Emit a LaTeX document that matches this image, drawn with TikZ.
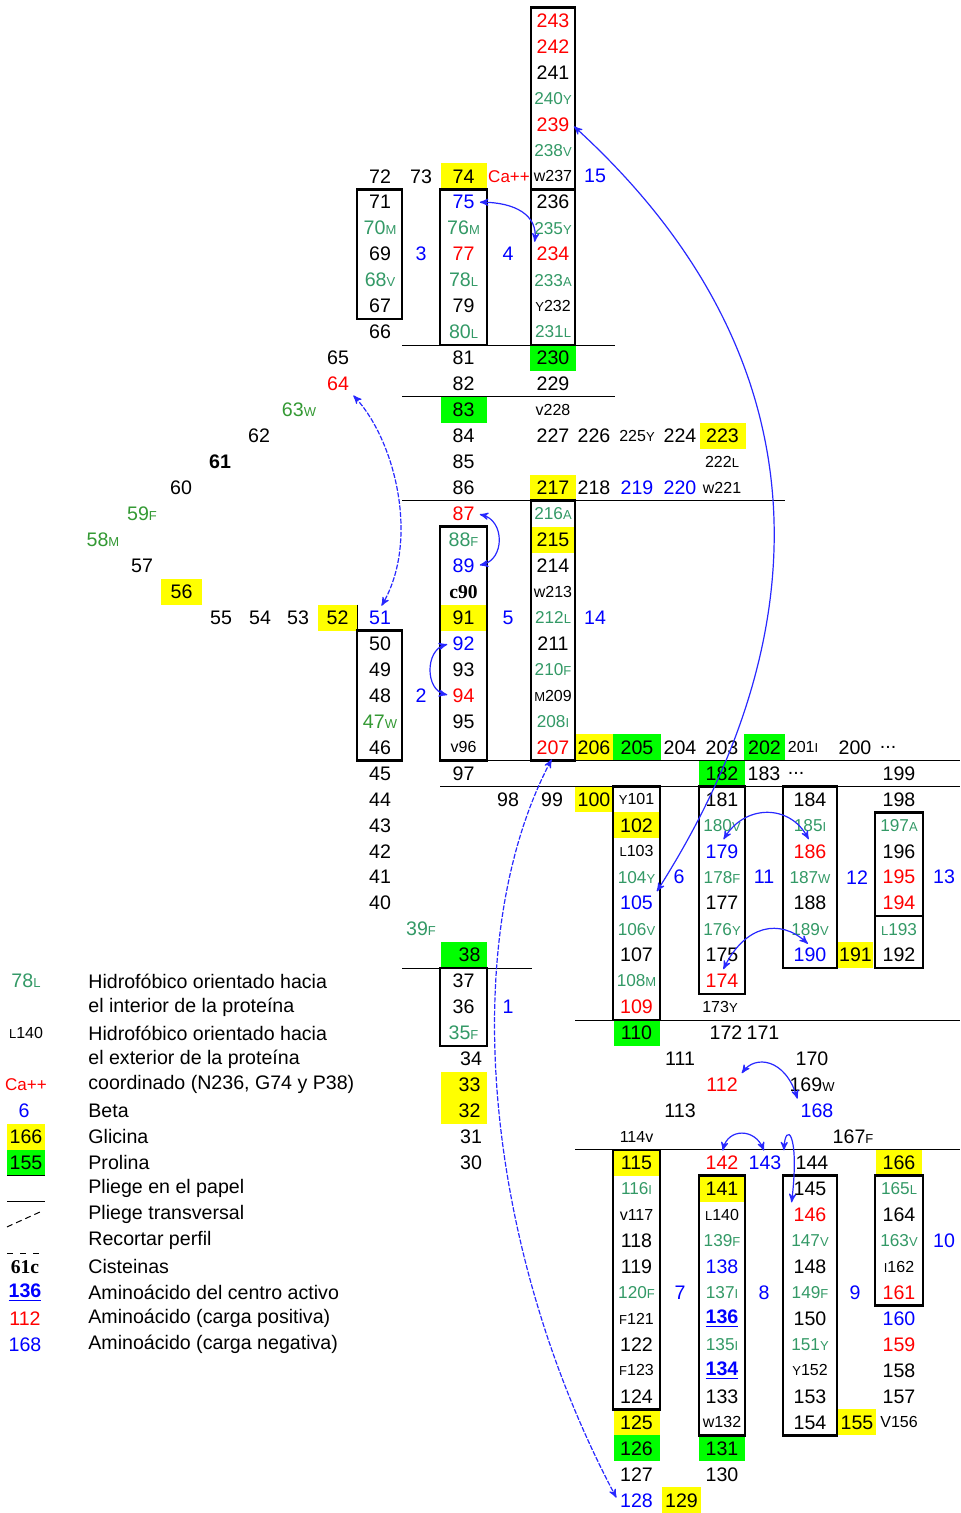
\documentclass[tikz,border=0pt]{standalone}
\usepackage{fontspec}
\setmainfont{Liberation Sans}
\newfontfamily\serifbf{Liberation Serif}
\usepackage{tikz}
\usetikzlibrary{arrows}

\definecolor{hyd}{RGB}{51,153,102}
\definecolor{hydw}{RGB}{51,153,51}
\definecolor{pos}{RGB}{255,0,0}
\definecolor{neg}{RGB}{0,0,255}
\definecolor{gly}{RGB}{255,255,0}
\definecolor{pro}{RGB}{0,255,0}
\definecolor{lnk}{RGB}{40,40,255}

\newcommand\suf[1]{{\fontsize{6.5}{7}\selectfont #1}}

\begin{document}
\begin{tikzpicture}[x=0.5pt,y=-12.98pt,>=stealth',
    every node/.style={font=\fontsize{9.8}{11}\selectfont,inner sep=1pt},
    inres/.style={text=hyd,font=\fontsize{8.6}{10}\selectfont},
    inresb/.style={text=hyd},
    inresw/.style={text=hydw},
    posres/.style={text=pos},
    negres/.style={text=neg},
    betanum/.style={text=neg},
    calc/.style={text=pos,font=\fontsize{8.5}{10}\selectfont},
    outres/.style={font=\fontsize{8}{9}\selectfont},
    actres/.style={text=neg,font=\fontsize{9.8}{11}\selectfont\bfseries},
    hl/.style={minimum width=23pt,minimum height=12.98pt,inner sep=0pt},
    glycell/.style={hl,fill=gly},
    procell/.style={hl,fill=pro},
    rgt/.style={text width=17pt,align=right,inner xsep=3pt},
    strand/.style={draw,line width=1.3pt},
    foldline/.style={line width=0.5pt},
    link/.style={<->,draw=lnk,line width=0.6pt,shorten <=1.5pt,shorten >=1.5pt},
    brokenlink/.style={link,dash pattern=on 2.5pt off 0.8pt}]
\useasboundingbox (0,-0.79) rectangle (960,57.49);

% top of strand 15
\node[posres] (n243) at (553,0) {243};
\node[posres] (n242) at (553,1) {242};
\node (n241) at (553,2) {241};
\node[inres] (n240) at (553,3) {240\suf{Y}};
\node[posres] (n239) at (553,4) {239};
\node[inres] (n238) at (553,5) {238\suf{V}};
\node (n72) at (380,6) {72};
\node (n73) at (421,6) {73};
\node[glycell] (n74) at (463.5,6) {74};
\node[calc] (nCa) at (509,6) {Ca++};
\node[outres] (n237) at (553,6) {w237};
\node[betanum] (b15) at (595,6) {15};
% strands 3, 4 and 15
\node (n71) at (380,7) {71};
\node[negres] (n75) at (463.5,7) {75};
\node (n236) at (553,7) {236};
\node[inresb] (n70) at (380,8) {70\suf{M}};
\node[inresb] (n76) at (463.5,8) {76\suf{M}};
\node[inres] (n235) at (553,8) {235\suf{Y}};
\node (n69) at (380,9) {69};
\node[betanum] (b3) at (421,9) {3};
\node[posres] (n77) at (463.5,9) {77};
\node[betanum] (b4) at (508,9) {4};
\node[posres] (n234) at (553,9) {234};
\node[inresb] (n68) at (380,10) {68\suf{V}};
\node[inresb] (n78) at (463.5,10) {78\suf{L}};
\node[inres] (n233) at (553,10) {233\suf{A}};
\node (n67) at (380,11) {67};
\node (n79) at (463.5,11) {79};
\node[outres] (n232) at (553,11) {\suf{Y}232};
\node (n66) at (380,12) {66};
\node[inresb] (n80) at (463.5,12) {80\suf{L}};
\node[inres] (n231) at (553,12) {231\suf{L}};
% loops 81-86 and 218-230
\node (n65) at (338,13) {65};
\node (n81) at (463.5,13) {81};
\node[procell] (n230) at (553,13) {230};
\node[posres] (n64) at (338,14) {64};
\node (n82) at (463.5,14) {82};
\node (n229) at (553,14) {229};
\node[inresw] (n63) at (299,15) {63\suf{W}};
\node[procell] (n83) at (463.5,15) {83};
\node[outres] (n228) at (553,15) {v228};
\node (n62) at (259,16) {62};
\node (n84) at (463.5,16) {84};
\node (n227) at (553,16) {227};
\node (n226) at (594,16) {226};
\node[outres] (n225) at (637,16) {225\suf{Y}};
\node (n224) at (680,16) {224};
\node[glycell] (n223) at (722.5,16) {223};
\node (n61) at (220,17) {\textbf{61}};
\node (n85) at (463.5,17) {85};
\node[outres] (n222) at (722,17) {222\suf{L}};
\node (n60) at (181,18) {60};
\node (n86) at (463.5,18) {86};
\node[glycell] (n217) at (553,18) {217};
\node (n218) at (594,18) {218};
\node[negres] (n219) at (637,18) {219};
\node[negres] (n220) at (680,18) {220};
\node[outres] (n221) at (722,18) {w221};
% strands 2, 5 and 14
\node[inresw] (n59) at (142,19) {59\suf{F}};
\node[posres] (n87) at (463.5,19) {87};
\node[inres] (n216) at (553,19) {216\suf{A}};
\node[inresw] (n58) at (103,20) {58\suf{M}};
\node[inresb] (n88) at (463.5,20) {88\suf{F}};
\node[glycell] (n215) at (553,20) {215};
\node (n57) at (142,21) {57};
\node[negres] (n89) at (463.5,21) {89};
\node (n214) at (553,21) {214};
\node[glycell,minimum width=20.5pt] (n56) at (181.5,22) {56};
\node (n90) at (463.5,22) {\serifbf\bfseries c90};
\node[outres] (n213) at (553,22) {w213};
\node (n55) at (221,23) {55};
\node (n54) at (260,23) {54};
\node (n53) at (298,23) {53};
\node[glycell,minimum width=19.5pt] (n52) at (337.5,23) {52};
\node[negres] (n51) at (380,23) {51};
\node[glycell] (n91) at (463.5,23) {91};
\node[betanum] (b5) at (508,23) {5};
\node[inres] (n212) at (553,23) {212\suf{L}};
\node[betanum] (b14) at (595,23) {14};
\node (n50) at (380,24) {50};
\node[negres] (n92) at (463.5,24) {92};
\node (n211) at (553,24) {211};
\node (n49) at (380,25) {49};
\node (n93) at (463.5,25) {93};
\node[inres] (n210) at (553,25) {210\suf{F}};
\node (n48) at (380,26) {48};
\node[betanum] (b2) at (421,26) {2};
\node[posres] (n94) at (463.5,26) {94};
\node[outres] (n209) at (553,26) {\suf{M}209};
\node[inresw] (n47) at (380,27) {47\suf{W}};
\node (n95) at (463.5,27) {95};
\node[inres] (n208) at (553,27) {208\suf{I}};
\node (n46) at (380,28) {46};
\node[outres] (n96) at (463.5,28) {v96};
\node[posres] (n207) at (553,28) {207};
\node[glycell,minimum width=19pt] (n206) at (594,28) {206};
\node[procell,minimum width=24pt] (n205) at (637,28) {205};
\node (n204) at (680,28) {204};
\node (n203) at (722,28) {203};
\node[procell,minimum width=20.5pt] (n202) at (764.5,28) {202};
\node[outres] (n201) at (803,28) {201\suf{I}};
\node (n200) at (855,28) {200};
\node (dots1) at (888,28) {...};
\node (n45) at (380,29) {45};
\node (n97) at (463.5,29) {97};
\node[procell] (n182) at (722,29) {182};
\node (n183) at (764,29) {183};
\node (dots2) at (796,29) {...};
\node (n199) at (899,29) {199};
% strands 1, 6, 11, 12 and 13
\node (n44) at (380,30) {44};
\node (n98) at (508,30) {98};
\node (n99) at (552,30) {99};
\node[glycell,minimum width=19pt] (n100) at (594,30) {100};
\node[outres] (n101) at (636.5,30) {\suf{Y}101};
\node (n181) at (722,30) {181};
\node (n184) at (810,30) {184};
\node (n198) at (899,30) {198};
\node (n43) at (380,31) {43};
\node[glycell] (n102) at (636.5,31) {102};
\node[inres] (n180) at (722,31) {180\suf{V}};
\node[inres] (n185) at (810,31) {185\suf{I}};
\node[inres] (n197) at (899,31) {197\suf{A}};
\node (n42) at (380,32) {42};
\node[outres] (n103) at (636.5,32) {\suf{L}103};
\node[negres] (n179) at (722,32) {179};
\node[posres] (n186) at (810,32) {186};
\node (n196) at (899,32) {196};
\node (n41) at (380,33) {41};
\node[inres] (n104) at (636.5,33) {104\suf{Y}};
\node[betanum] (b6) at (679,33) {6};
\node[inres] (n178) at (722,33) {178\suf{F}};
\node[betanum] (b11) at (764,33) {11};
\node[inres] (n187) at (810,33) {187\suf{W}};
\node[betanum] (b12) at (857,33) {12};
\node[posres] (n195) at (899,33) {195};
\node[betanum] (b13) at (944,33) {13};
\node (n40) at (380,34) {40};
\node[negres] (n105) at (636.5,34) {105};
\node (n177) at (722,34) {177};
\node (n188) at (810,34) {188};
\node[posres] (n194) at (899,34) {194};
\node[inresb] (n39) at (421,35) {39\suf{F}};
\node[inres] (n106) at (636.5,35) {106\suf{V}};
\node[inres] (n176) at (722,35) {176\suf{Y}};
\node[inres] (n189) at (810,35) {189\suf{V}};
\node[inres] (n193) at (899,35) {\suf{L}193};
\node[procell,rgt] (n38) at (463.5,36) {38};
\node (n107) at (636.5,36) {107};
\node (n175) at (722,36) {175};
\node[negres] (n190) at (810,36) {190};
\node[glycell,minimum width=17.5pt] (n191) at (855.5,36) {191};
\node (n192) at (899,36) {192};
\node (n37) at (463.5,37) {37};
\node[inres] (n108) at (636.5,37) {108\suf{M}};
\node[posres] (n174) at (722,37) {174};
\node (n36) at (463.5,38) {36};
\node[betanum] (b1) at (508,38) {1};
\node[posres] (n109) at (636.5,38) {109};
\node[outres] (n173) at (720,38) {173\suf{Y}};
\node[inresb] (n35) at (463.5,39) {35\suf{F}};
\node[procell] (n110) at (636.5,39) {110};
\node (n172) at (726,39) {172};
\node (n171) at (763,39) {171};
\node (n34) at (471,40) {34};
\node (n111) at (680,40) {111};
\node (n170) at (812,40) {170};
\node[glycell,rgt] (n33) at (463.5,41) {33};
\node[posres] (n112) at (722,41) {112};
\node (n169) at (812,41) {169\suf{W}};
\node[glycell,rgt] (n32) at (463.5,42) {32};
\node (n113) at (680,42) {113};
\node[negres] (n168) at (817,42) {168};
\node (n31) at (471,43) {31};
\node[outres] (n114) at (636.5,43) {114v};
\node (n167) at (853,43) {167\suf{F}};
\node (n30) at (471,44) {30};
% strands 7, 8, 9 and 10
\node[glycell] (n115) at (636.5,44) {115};
\node[posres] (n142) at (722,44) {142};
\node[negres] (n143) at (765,44) {143};
\node (n144) at (812,44) {144};
\node[glycell] (n166) at (899,44) {166};
\node[inres] (n116) at (636.5,45) {116\suf{I}};
\node[glycell] (n141) at (722,45) {141};
\node (n145) at (810,45) {145};
\node[inres] (n165) at (899,45) {165\suf{L}};
\node[outres] (n117) at (636.5,46) {v117};
\node[outres] (n140) at (722,46) {\suf{L}140};
\node[posres] (n146) at (810,46) {146};
\node (n164) at (899,46) {164};
\node (n118) at (636.5,47) {118};
\node[inres] (n139) at (722,47) {139\suf{F}};
\node[inres] (n147) at (810,47) {147\suf{V}};
\node[inres] (n163) at (899,47) {163\suf{V}};
\node[betanum] (b10) at (944,47) {10};
\node (n119) at (636.5,48) {119};
\node[negres] (n138) at (722,48) {138};
\node (n148) at (810,48) {148};
\node[outres] (n162) at (899,48) {\suf{I}162};
\node[inres] (n120) at (636.5,49) {120\suf{F}};
\node[betanum] (b7) at (680,49) {7};
\node[inres] (n137) at (722,49) {137\suf{I}};
\node[betanum] (b8) at (764,49) {8};
\node[inres] (n149) at (810,49) {149\suf{F}};
\node[betanum] (b9) at (855,49) {9};
\node[posres] (n161) at (899,49) {161};
\node[outres] (n121) at (636.5,50) {\suf{F}121};
\node[actres] (n136) at (722,50) {\underline{136}};
\node (n150) at (810,50) {150};
\node[negres] (n160) at (899,50) {160};
\node (n122) at (636.5,51) {122};
\node[inres] (n135) at (722,51) {135\suf{I}};
\node[inres] (n151) at (810,51) {151\suf{Y}};
\node[posres] (n159) at (899,51) {159};
\node[outres] (n123) at (636.5,52) {\suf{F}123};
\node[actres] (n134) at (722,52) {\underline{134}};
\node[outres] (n152) at (810,52) {\suf{Y}152};
\node (n158) at (899,52) {158};
\node (n124) at (636.5,53) {124};
\node (n133) at (722,53) {133};
\node (n153) at (810,53) {153};
\node (n157) at (899,53) {157};
\node[glycell] (n125) at (636.5,54) {125};
\node[outres] (n132) at (722,54) {w132};
\node (n154) at (810,54) {154};
\node[glycell,minimum width=19pt] (n155) at (857,54) {155};
\node[outres] (n156) at (899,54) {V156};
\node[procell] (n126) at (636.5,55) {126};
\node[procell] (n131) at (722,55) {131};
\node (n127) at (636.5,56) {127};
\node (n130) at (722,56) {130};
\node[negres] (n128) at (636.5,57) {128};
\node[glycell,minimum width=19.5pt] (n129) at (681.5,57) {129};

% legend
\node[inresb] (k78) at (26,37) {78\suf{L}};
\node[anchor=west] (t1) at (86,37) {Hidrofóbico orientado hacia};
\node[anchor=west] (t2) at (86,38) {el interior de la proteína};
\node[outres] (k140) at (26,39) {\suf{L}140};
\node[anchor=west] (t3) at (86,39) {Hidrofóbico orientado hacia};
\node[anchor=west] (t4) at (86,40) {el exterior de la proteína};
\node[calc] (kCa) at (26,41) {Ca++};
\node[anchor=west] (t5) at (86,41) {coordinado (N236, G74 y P38)};
\node[betanum] (k6) at (24,42) {6};
\node[anchor=west] (t6) at (86,42) {Beta};
\node[glycell,minimum width=19pt] (k166) at (26,43) {166};
\node[anchor=west] (t7) at (86,43) {Glicina};
\node[procell,minimum width=19pt] (k155) at (26,44) {155};
\node[anchor=west] (t8) at (86,44) {Prolina};
\node[anchor=west] (t9) at (86,45) {Pliege en el papel};
\node[anchor=west] (t10) at (86,46) {Pliege transversal};
\node[anchor=west] (t11) at (86,47) {Recortar perfil};
\node (k61) at (25,48) {\serifbf\bfseries 61c};
\node[anchor=west] (t12) at (86,48) {Cisteinas};
\node[actres] (k136) at (25,49) {\underline{136}};
\node[anchor=west] (t13) at (86,49) {Aminoácido del centro activo};
\node[posres] (k112) at (25,50) {112};
\node[anchor=west] (t14) at (86,50) {Aminoácido (carga positiva)};
\node[negres] (k168) at (25,51) {168};
\node[anchor=west] (t15) at (86,51) {Aminoácido (carga negativa)};
\draw[foldline] (7,44.5) -- (45,44.5);
\draw[foldline] (7,45.5) -- (45,45.5);
\draw[foldline,densely dashed] (7,46.47) -- (42,45.86);
\draw[foldline,dash pattern=on 3pt off 3.5pt] (7,47.48) -- (45,47.48);

% strands
\draw[strand] (357,6.5) rectangle (402,11.5);
\draw[strand] (440,6.5) rectangle (487,12.5);
\draw[strand] (531,-0.5) rectangle (575,6.5);
\draw[strand] (531,6.5) rectangle (575,12.5);
\draw[strand] (531,18.5) rectangle (575,28.5);
\draw[strand] (440,19.5) rectangle (487,28.5);
\draw[strand] (357,23.5) rectangle (402,28.5);
\draw[strand] (440,36.5) rectangle (487,39.5);
\draw[strand] (613,29.5) rectangle (660,38.5);
\draw[strand] (699,29.5) rectangle (745,37.5);
\draw[strand] (783,29.5) rectangle (837,36.5);
\draw[strand] (875,30.5) rectangle (923,34.5);
\draw[strand] (875,34.5) rectangle (923,36.5);
\draw[strand] (613,43.5) rectangle (660,53.5);
\draw[strand] (699,44.5) rectangle (745,54.5);
\draw[strand] (783,44.5) rectangle (837,54.5);
\draw[strand] (875,44.5) rectangle (923,49.5);

% folds
\draw[foldline] (402,12.5) -- (615,12.5);
\draw[foldline] (402,14.5) -- (615,14.5);
\draw[foldline] (402,18.5) -- (785,18.5);
\draw[foldline] (357,22.5) -- (357,23.5);
\draw[foldline] (440,28.5) -- (960,28.5);
\draw[foldline] (440,29.5) -- (960,29.5);
\draw[foldline] (402,36.5) -- (532,36.5);
\draw[foldline] (575,38.5) -- (960,38.5);
\draw[foldline] (575,43.5) -- (960,43.5);

% links
\draw[link] (n75.east) .. controls (515,7.0) and (538,7.5) .. (n234.north west);
\draw[link] (n239.east) .. controls (830,13.08) and (820,23.67) .. (n105.north east);
\draw[brokenlink] (n64.south east) .. controls (395,16.16) and (420,20.01) .. (n51.north);
\draw[link] (n87.east) .. controls (505,19.24) and (505,20.78) .. (n89.east);
\draw[link] (n92.west) .. controls (425,24.25) and (425,25.79) .. (n94.west);
\draw[brokenlink] (n207.south) .. controls (455,35.5) and (485,47.4) .. (n128.west);
\draw[link] (n179.north) .. controls (745,30.18) and (790,30.18) .. (n186.north);
\draw[link] (n174.north) .. controls (745,34.84) and (780,34.57) .. (n190.north);
\draw[link] (n112.north east) .. controls (755,39.85) and (785,39.97) .. (n168.north west);
\draw[link] (n142.north) .. controls (728,42.66) and (755,42.66) .. (n143.north);
\draw[link] (n143.north east) .. controls (785,42.43) and (800,42.74) .. (n146.north west);
\end{tikzpicture}
\end{document}
